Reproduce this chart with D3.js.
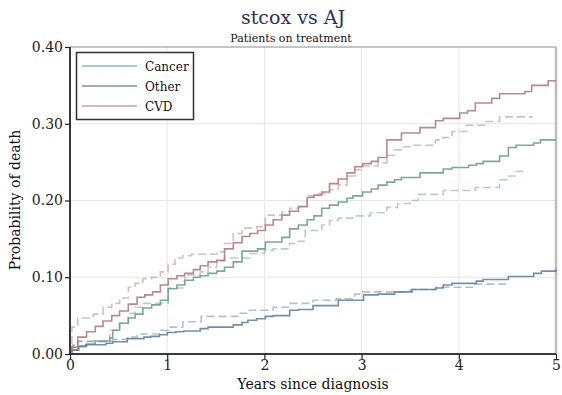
<!DOCTYPE html>
<html><head><meta charset="utf-8">
<script src="https://cdn.jsdelivr.net/npm/d3@7"></script>
<style>
html,body{margin:0;padding:0;background:#fff;}
svg{display:block;font-family:"DejaVu Serif",serif;}
</style></head>
<body><svg id="chart" width="562" height="395"></svg>
<script>
const title = "stcox vs AJ";
const subtitle = "Patients on treatment";
const xLabel = "Years since diagnosis";
const yLabel = "Probability of death";
const xTicks = [0, 1, 2, 3, 4, 5];
const yTicks = [0, 0.1, 0.2, 0.3, 0.4];
const legendLabels = ["Cancer", "Other", "CVD"];

// [time, probability] steps — solid = stcox, dashed = Aalen-Johansen
const cancerCox = [[0,0.003],[0.02,0.005],[0.08,0.010],[0.17,0.013],[0.26,0.017],[0.41,0.021],[0.44,0.031],[0.51,0.040],[0.60,0.047],[0.67,0.052],[0.75,0.060],[0.84,0.064],[0.93,0.070],[1.01,0.085],[1.10,0.090],[1.18,0.096],[1.27,0.100],[1.34,0.102],[1.42,0.105],[1.51,0.108],[1.59,0.113],[1.68,0.120],[1.77,0.134],[1.93,0.137],[2.01,0.146],[2.18,0.152],[2.26,0.163],[2.35,0.168],[2.44,0.175],[2.51,0.180],[2.59,0.190],[2.67,0.194],[2.76,0.198],[2.85,0.203],[2.91,0.206],[3.01,0.211],[3.10,0.215],[3.17,0.220],[3.26,0.224],[3.34,0.227],[3.41,0.230],[3.60,0.236],[3.84,0.241],[3.93,0.243],[4.10,0.246],[4.18,0.248],[4.25,0.251],[4.42,0.258],[4.51,0.269],[4.59,0.272],[4.77,0.275],[4.84,0.279],[5.0,0.279]];
const cancerAJ = [[0,0.005],[0.02,0.010],[0.08,0.016],[0.41,0.031],[0.51,0.040],[0.60,0.053],[0.67,0.061],[0.75,0.066],[1.01,0.086],[1.18,0.103],[1.34,0.107],[1.42,0.113],[1.51,0.121],[1.59,0.125],[1.85,0.131],[2.00,0.135],[2.09,0.137],[2.26,0.144],[2.35,0.147],[2.42,0.161],[2.59,0.168],[2.67,0.174],[2.76,0.177],[2.91,0.180],[3.09,0.184],[3.26,0.191],[3.37,0.196],[3.50,0.200],[3.58,0.208],[3.84,0.213],[4.17,0.217],[4.42,0.227],[4.51,0.232],[4.59,0.238],[4.69,0.238]];
const otherCox = [[0,0.003],[0.02,0.005],[0.09,0.010],[0.16,0.012],[0.37,0.014],[0.44,0.016],[0.59,0.020],[0.76,0.022],[0.83,0.023],[0.92,0.025],[1.0,0.028],[1.09,0.029],[1.17,0.030],[1.34,0.033],[1.42,0.035],[1.68,0.038],[1.77,0.041],[1.83,0.044],[1.92,0.046],[2.01,0.049],[2.09,0.050],[2.26,0.057],[2.35,0.058],[2.50,0.063],[2.76,0.070],[3.02,0.077],[3.17,0.078],[3.34,0.081],[3.52,0.084],[3.76,0.086],[3.84,0.090],[3.93,0.092],[4.18,0.095],[4.25,0.097],[4.51,0.101],[4.77,0.105],[4.85,0.108],[5.0,0.111]];
const otherAJ = [[0,0.008],[0.03,0.012],[0.08,0.017],[0.44,0.019],[0.59,0.022],[0.69,0.026],[0.93,0.031],[1.01,0.035],[1.16,0.042],[1.35,0.049],[1.75,0.053],[1.83,0.057],[2.09,0.061],[2.26,0.066],[2.50,0.070],[2.74,0.072],[2.93,0.078],[3.0,0.081],[3.50,0.084],[3.77,0.087],[4.17,0.091],[4.52,0.091]];
const cvdCox = [[0,0.005],[0.02,0.009],[0.08,0.022],[0.17,0.029],[0.26,0.036],[0.34,0.043],[0.43,0.050],[0.51,0.056],[0.60,0.065],[0.69,0.074],[0.77,0.077],[0.85,0.081],[0.93,0.090],[1.01,0.098],[1.10,0.102],[1.18,0.105],[1.27,0.110],[1.34,0.115],[1.42,0.120],[1.51,0.122],[1.59,0.137],[1.68,0.145],[1.77,0.153],[1.85,0.157],[1.93,0.161],[2.01,0.168],[2.09,0.175],[2.18,0.181],[2.26,0.186],[2.35,0.192],[2.44,0.204],[2.51,0.207],[2.59,0.211],[2.67,0.222],[2.76,0.228],[2.85,0.236],[2.93,0.244],[3.01,0.248],[3.10,0.251],[3.17,0.256],[3.26,0.279],[3.41,0.288],[3.60,0.295],[3.76,0.304],[3.84,0.307],[4.01,0.314],[4.09,0.317],[4.17,0.327],[4.34,0.333],[4.42,0.339],[4.68,0.342],[4.75,0.350],[4.92,0.356],[5.0,0.356]];
const cvdAJ = [[0,0.000],[0.02,0.035],[0.08,0.047],[0.24,0.052],[0.34,0.061],[0.43,0.066],[0.51,0.073],[0.60,0.087],[0.67,0.092],[0.75,0.098],[0.84,0.100],[0.93,0.107],[1.01,0.117],[1.08,0.125],[1.16,0.128],[1.25,0.130],[1.51,0.133],[1.59,0.144],[1.68,0.157],[1.77,0.164],[1.92,0.166],[2.01,0.181],[2.18,0.185],[2.26,0.190],[2.35,0.192],[2.44,0.206],[2.52,0.209],[2.67,0.214],[2.76,0.220],[2.85,0.232],[2.93,0.240],[3.01,0.245],[3.17,0.249],[3.26,0.259],[3.34,0.266],[3.41,0.270],[3.50,0.272],[3.76,0.279],[3.84,0.282],[3.93,0.290],[4.08,0.298],[4.27,0.303],[4.42,0.309],[4.76,0.309]];

const colors = {Cancer:"#6e9f8d", Other:"#6780a2", CVD:"#b07d7d"};
const legendColors = {Cancer:"#8cbfab", Other:"#9aaec8", CVD:"#c9a1a1"};

const series = [
  {name:"Cancer", data:cancerAJ, dashed:true},
  {name:"Other", data:otherAJ, dashed:true},
  {name:"CVD", data:cvdAJ, dashed:true},
  {name:"Cancer", data:cancerCox, dashed:false},
  {name:"Other", data:otherCox, dashed:false},
  {name:"CVD", data:cvdCox, dashed:false}
];

const svg = d3.select("#chart");
const L = 70, R = 556, T = 47, B = 354;
const x = d3.scaleLinear().domain([0,5]).range([L,R]);
const y = d3.scaleLinear().domain([0,0.4]).range([B,T]);

// grid
svg.append("g").selectAll("line").data(xTicks.slice(1,-1)).join("line")
  .attr("x1",d=>x(d)).attr("x2",d=>x(d)).attr("y1",T).attr("y2",B)
  .attr("stroke","#e6e6e6").attr("stroke-width",1);
svg.append("g").selectAll("line").data(yTicks.slice(1,-1)).join("line")
  .attr("x1",L).attr("x2",R).attr("y1",d=>y(d)).attr("y2",d=>y(d))
  .attr("stroke","#e6e6e6").attr("stroke-width",1);

// frame top and right
svg.append("line").attr("x1",L).attr("x2",R).attr("y1",T).attr("y2",T).attr("stroke","#8a8a8a").attr("stroke-width",1);
svg.append("line").attr("x1",R).attr("x2",R).attr("y1",T).attr("y2",B).attr("stroke","#bdbdbd").attr("stroke-width",2.5);

// lines
const line = d3.line().x(d=>x(d[0])).y(d=>y(d[1])).curve(d3.curveStepAfter);
svg.append("g").selectAll("path").data(series).join("path")
  .attr("d",d=>line(d.data))
  .attr("fill","none")
  .attr("stroke",d=>colors[d.name])
  .attr("stroke-opacity",d=>d.dashed?0.5:0.9)
  .attr("stroke-width",1.6)
  .attr("stroke-dasharray",d=>d.dashed?"8,4":null);

// axes
const xAxis = d3.axisBottom(x).tickValues(xTicks).tickFormat(d3.format("d")).tickSize(5).tickPadding(1);
const yAxis = d3.axisLeft(y).tickValues(yTicks).tickFormat(d3.format(".2f")).tickSize(5).tickPadding(2);
const gx = svg.append("g").attr("transform",`translate(0,${B})`).call(xAxis);
const gy = svg.append("g").attr("transform",`translate(${L},0)`).call(yAxis);
[gx,gy].forEach(g=>{
  g.select(".domain").attr("stroke","#3a3a3a").attr("stroke-width",2);
  g.selectAll(".tick line").attr("stroke","#222").attr("stroke-width",1.2);
  g.selectAll(".tick text").attr("fill","#222").style("font-family","DejaVu Serif").style("font-size","14px");
});
gx.select(".domain").attr("d",`M${L},0H${R}`);
gy.select(".domain").attr("d",`M0,${B}V${T}`);

// titles
svg.append("text").attr("x",293).attr("y",24).attr("text-anchor","middle")
  .attr("fill","#26335e").style("font-size","19px").text(title);
svg.append("text").attr("x",291).attr("y",42).attr("text-anchor","middle")
  .attr("fill","#111").style("font-size","11px").text(subtitle);
svg.append("text").attr("x",313).attr("y",389).attr("text-anchor","middle")
  .attr("fill","#111").style("font-size","14px").text(xLabel);
svg.append("text").attr("transform","translate(20,200) rotate(-90)").attr("text-anchor","middle")
  .attr("fill","#111").style("font-size","14px").text(yLabel);

// legend
const lg = svg.append("g");
lg.append("rect").attr("x",76.5).attr("y",52.5).attr("width",117).attr("height",67)
  .attr("fill","#fff").attr("stroke","#333").attr("stroke-width",1.5);
legendLabels.forEach((name,i)=>{
  const yy = 66 + i*20;
  lg.append("line").attr("x1",82).attr("x2",137).attr("y1",yy).attr("y2",yy)
    .attr("stroke",legendColors[name]).attr("stroke-width",i===1?2:1.5);
  lg.append("text").attr("x",145).attr("y",yy+4.5).attr("fill","#111")
    .style("font-size","12px").text(name);
});
</script>
</body></html>
